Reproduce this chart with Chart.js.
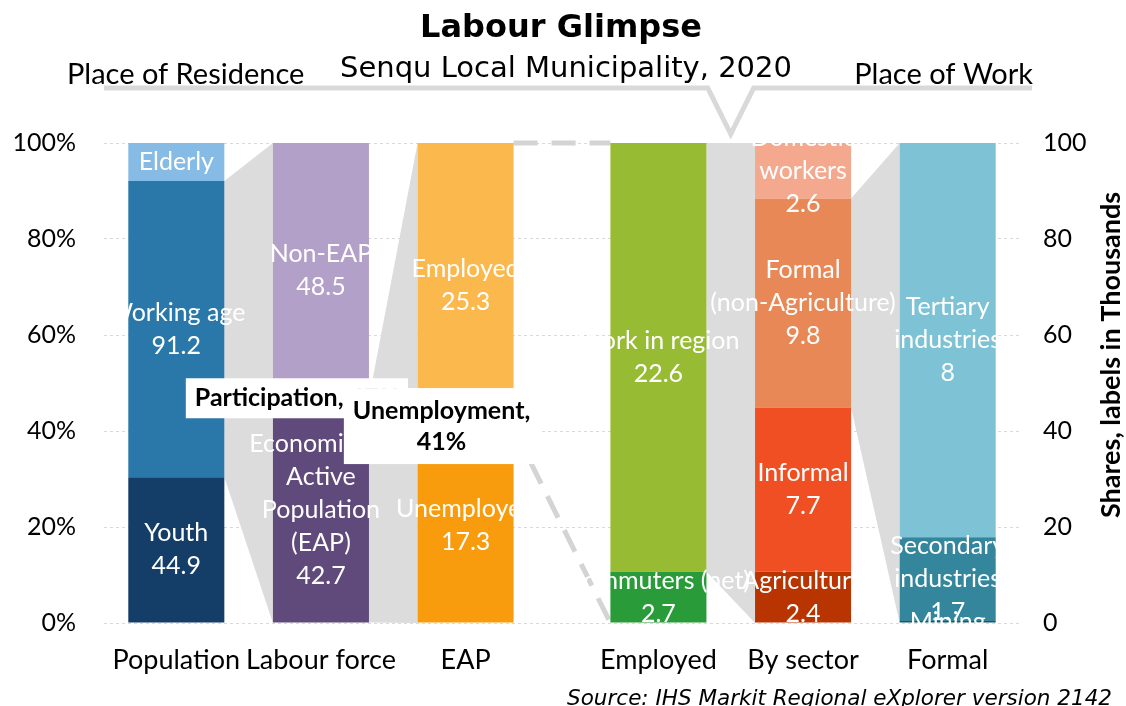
<!DOCTYPE html>
<html>
<head>
<meta charset="utf-8">
<script src="https://cdn.jsdelivr.net/npm/chart.js@4.4.0/dist/chart.umd.min.js"></script>
<style>
  html, body { margin: 0; padding: 0; background: #ffffff; }
  #wrap { width: 1126px; height: 706px; }
</style>
</head>
<body>
<div id="wrap"><canvas id="chart" width="1126" height="706"></canvas></div>
<script>
// Bars of the labour glimpse, left to right
const barLabels = ['Population', 'Labour force', 'EAP', 'Employed', 'By sector', 'Formal'];

// Segments of each bar, bottom to top (values in thousands)
const populationNames = ['Youth', 'Working age', 'Elderly'];
const populationValues = [44.9, 91.2, 11.7];

const labourNames = ['Economically\nActive\nPopulation\n(EAP)', 'Non-EAP'];
const labourValues = [42.7, 48.5];

const eapNames = ['Unemployed', 'Employed'];
const eapValues = [17.3, 25.3];

const employedNames = ['Commuters (net)', 'Work in region'];
const employedValues = [2.7, 22.6];

const sectorNames = ['Agriculture', 'Informal', 'Formal\n(non-Agriculture)', 'Domestic\nworkers'];
const sectorValues = [2.4, 7.7, 9.8, 2.6];

const formalNames = ['Mining', 'Secondary\nindustries', 'Tertiary\nindustries'];
const formalValues = [0.04, 1.7, 8];

// Axis tick labels
const shareTicks = [0, 20, 40, 60, 80, 100];

// ---------------------------------------------------------------------------
const bars = [
  { names: populationNames, values: populationValues },
  { names: labourNames, values: labourValues },
  { names: eapNames, values: eapValues },
  { names: employedNames, values: employedValues },
  { names: sectorNames, values: sectorValues },
  { names: formalNames, values: formalValues }
];

const palette = [
  ['#143d67', '#2a77a9', '#86bbe5'],
  ['#5f4a7b', '#b3a0c8'],
  ['#f89c0e', '#fbb84d'],
  ['#2a9b39', '#98bb34'],
  ['#b83400', '#f04f24', '#e98857', '#f4a98f'],
  ['#1d5567', '#33869b', '#7ec3d5']
];

// Place-of-work bars sit a third of a slot further right
const xPos = i => i + (i >= 3 ? 1 / 3 : 0);

const datasets = [];
const datasetIndex = {};
bars.forEach((bar, b) => {
  const total = bar.values.reduce((a, v) => a + v, 0);
  bar.values.forEach((v, s) => {
    datasetIndex[b + ':' + s] = datasets.length;
    datasets.push({
      label: bar.names[s].replace(/\n/g, ' '),
      data: [{ x: xPos(b), y: v / total * 100 }],
      backgroundColor: palette[b][s],
      borderWidth: 0,
      amount: v,
      segName: bar.names[s]
    });
  });
});

// Which segment of a bar expands into the whole next bar
const links = [
  { bar: 0, seg: 1, style: 'fill' },
  { bar: 1, seg: 0, style: 'fill' },
  { bar: 2, seg: 1, style: 'dash' },
  { bar: 3, seg: 1, style: 'fill' },
  { bar: 4, seg: 2, style: 'fill' }
];

const share = (bar, seg) => {
  const vals = bars[bar].values;
  return vals[seg] / vals.reduce((a, v) => a + v, 0);
};
const participation = Math.round(share(1, 0) * 100);
const unemployment = Math.round(share(2, 0) * 100);

function segEl(chart, b, s) {
  return chart.getDatasetMeta(datasetIndex[b + ':' + s]).data[0];
}

const connectorPlugin = {
  id: 'connectors',
  beforeDatasetsDraw(chart) {
    const ctx = chart.ctx;
    const ys = chart.scales.y;
    const fullTop = ys.getPixelForValue(100);
    const fullBottom = ys.getPixelForValue(0);
    links.forEach(l => {
      const el = segEl(chart, l.bar, l.seg);
      const next = segEl(chart, l.bar + 1, 0);
      const x1 = el.x + el.width / 2;
      const x2 = next.x - next.width / 2;
      const top = Math.min(el.y, el.base);
      const bottom = Math.max(el.y, el.base);
      ctx.save();
      if (l.style === 'fill') {
        ctx.fillStyle = '#dcdcdc';
        ctx.beginPath();
        ctx.moveTo(x1, top);
        ctx.lineTo(x2, fullTop);
        ctx.lineTo(x2, fullBottom);
        ctx.lineTo(x1, bottom);
        ctx.closePath();
        ctx.fill();
      } else {
        ctx.strokeStyle = '#d4d4d4';
        ctx.lineWidth = 5;
        ctx.setLineDash([24, 14]);
        ctx.beginPath();
        ctx.moveTo(x1, top);
        ctx.lineTo(x2, fullTop);
        ctx.moveTo(x1, bottom);
        ctx.lineTo(x2, fullBottom);
        ctx.stroke();
      }
      ctx.restore();
    });
  }
};

const labelPlugin = {
  id: 'segmentLabels',
  afterDatasetsDraw(chart) {
    const ctx = chart.ctx;
    const lineH = 33;
    ctx.save();
    ctx.fillStyle = '#ffffff';
    ctx.font = '25px Lato';
    ctx.textAlign = 'center';
    ctx.textBaseline = 'middle';
    chart.data.datasets.forEach((ds, i) => {
      const el = chart.getDatasetMeta(i).data[0];
      const h = Math.abs(el.base - el.y);
      const lines = ds.segName.split('\n');
      if (h >= 45) lines.push(String(ds.amount));
      const cy = (el.y + el.base) / 2;
      const y0 = cy - (lines.length - 1) * lineH / 2;
      lines.forEach((t, k) => ctx.fillText(t, el.x, y0 + k * lineH));
    });
    ctx.restore();

    // Rate call-outs
    const box = (lines, cx, cy) => {
      ctx.save();
      ctx.font = 'bold 25px Lato';
      const w = Math.max(...lines.map(t => ctx.measureText(t).width)) + 18;
      const h = lines.length === 1 ? 40 : 76;
      ctx.fillStyle = '#ffffff';
      ctx.fillRect(cx - w / 2, cy - h / 2, w, h);
      ctx.fillStyle = '#000000';
      ctx.textAlign = 'center';
      ctx.textBaseline = 'middle';
      const step = 31;
      const start = cy - (lines.length - 1) * step / 2;
      lines.forEach((t, k) => ctx.fillText(t, cx, start + k * step));
      ctx.restore();
    };
    const eapEl = segEl(chart, 1, 0);
    box(['Participation, ' + participation + '%'], eapEl.x - eapEl.width / 4, eapEl.y);
    const unEl = segEl(chart, 2, 0);
    box(['Unemployment,', unemployment + '%'], unEl.x - unEl.width / 4, unEl.y - 2);
  }
};

const headerPlugin = {
  id: 'header',
  afterDraw(chart) {
    const ctx = chart.ctx;
    const area = chart.chartArea;
    ctx.save();

    // Bracket separating place of residence from place of work
    const left3 = segEl(chart, 3, 0);
    const right4 = segEl(chart, 4, 0);
    const tipX = ((left3.x + left3.width / 2) + (right4.x - right4.width / 2)) / 2;
    const lineY = area.top - 55;
    ctx.strokeStyle = '#d9d9d9';
    ctx.lineWidth = 5;
    ctx.lineJoin = 'miter';
    ctx.beginPath();
    ctx.moveTo(area.left, lineY);
    ctx.lineTo(tipX - 23, lineY);
    ctx.lineTo(tipX, area.top - 9);
    ctx.lineTo(tipX + 23, lineY);
    ctx.lineTo(area.right + 12, lineY);
    ctx.stroke();

    ctx.fillStyle = '#000000';
    ctx.textBaseline = 'alphabetic';
    ctx.textAlign = 'center';
    ctx.font = 'bold 32px "DejaVu Sans"';
    ctx.fillText('Labour Glimpse', 561, 37);
    ctx.font = '29px "DejaVu Sans"';
    ctx.fillText('Senqu Local Municipality, 2020', 566, 77);

    ctx.font = '29px Lato';
    ctx.textAlign = 'left';
    ctx.fillText('Place of Residence', 67, 84);
    ctx.textAlign = 'right';
    ctx.fillText('Place of Work', 1033, 84);

    // Secondary axis title, reading upwards
    ctx.save();
    ctx.translate(1111, 355);
    ctx.rotate(-Math.PI / 2);
    ctx.textAlign = 'center';
    ctx.textBaseline = 'middle';
    ctx.font = 'bold 27px Lato';
    ctx.fillText('Shares, labels in Thousands', 0, 0);
    ctx.restore();

    ctx.textAlign = 'right';
    ctx.font = 'italic 21.5px "DejaVu Sans"';
    ctx.fillText('Source: IHS Markit Regional eXplorer version 2142', 1112, 705);
    ctx.restore();
  }
};

new Chart(document.getElementById('chart'), {
  type: 'bar',
  data: { datasets },
  options: {
    responsive: false,
    animation: false,
    devicePixelRatio: 1,
    layout: { padding: { top: 143, left: 0, right: 0, bottom: 0 } },
    datasets: { bar: { categoryPercentage: 1, barPercentage: 0.664 } },
    plugins: { legend: { display: false }, tooltip: { enabled: false }, title: { display: false } },
    scales: {
      x: {
        type: 'linear',
        offset: false,
        min: -0.5,
        max: 5 + 1 / 3 + 0.5,
        stacked: true,
        grid: { display: false, offset: false },
        border: { display: false },
        afterBuildTicks: s => { s.ticks = barLabels.map((_, i) => ({ value: xPos(i) })); },
        afterFit: s => { s.height = 83; },
        ticks: {
          autoSkip: false, maxRotation: 0, minRotation: 0, padding: 13,
          color: '#000000', font: { family: 'Lato', size: 27 },
          callback: (v, i) => barLabels[i]
        }
      },
      y: {
        position: 'left',
        min: 0, max: 100,
        stacked: true,
        afterBuildTicks: s => { s.ticks = shareTicks.map(v => ({ value: v })); },
        afterFit: s => { s.width = 104; },
        grid: { color: '#d9d9d9', lineWidth: 1, drawTicks: false },
        border: { display: false, dash: [3, 3] },
        ticks: { padding: 28, color: '#000000', font: { family: 'Lato', size: 25 }, callback: v => v + '%' }
      },
      y2: {
        position: 'right',
        min: 0, max: 100,
        afterBuildTicks: s => { s.ticks = shareTicks.map(v => ({ value: v })); },
        afterFit: s => { s.width = 106; },
        grid: { drawOnChartArea: false, drawTicks: false },
        border: { display: false },
        ticks: { padding: 23, color: '#000000', font: { family: 'Lato', size: 25 }, callback: v => String(v) }
      }
    }
  },
  plugins: [connectorPlugin, labelPlugin, headerPlugin]
});
</script>
</body>
</html>
